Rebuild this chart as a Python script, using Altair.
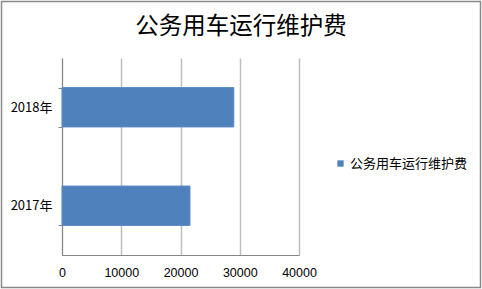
import altair as alt
import pandas as pd

# Annual vehicle operation & maintenance cost
years = ["2017年", "2018年"]
costs = [21600, 29000]
series_name = "公务用车运行维护费"
year_order = ["2018年", "2017年"]
x_ticks = [0, 10000, 20000, 30000, 40000]

FONT = "Noto Sans CJK SC"
NUM_FONT = "Liberation Sans"
BLUE = "#4F81BD"

df = pd.DataFrame({"year": years, "cost": costs, "series": [series_name] * len(years)})

bars = alt.Chart(df).mark_bar(color=BLUE, stroke="#5B8CC6", strokeWidth=1).encode(
    y=alt.Y(
        "year:N",
        sort=year_order,
        scale=alt.Scale(paddingInner=0.6, paddingOuter=0.3),
        axis=alt.Axis(
            title=None,
            grid=False,
            tickBand="extent",
            tickSize=4,
            tickColor="#868686",
            domainColor="#868686",
            labelPadding=6,
            labelFontSize=13,
            labelFont=FONT,
            labelColor="#000000",
        ),
    ),
    x=alt.X(
        "cost:Q",
        scale=alt.Scale(domain=[0, 40000], nice=False),
        axis=alt.Axis(
            title=None,
            values=x_ticks,
            format="d",
            ticks=False,
            labelFlush=False,
            labelOverlap=False,
            grid=True,
            gridColor="#BEBEBE",
            gridWidth=1.5,
            domainColor="#868686",
            labelPadding=11,
            labelFontSize=12.5,
            labelFont=NUM_FONT,
            labelColor="#000000",
        ),
    ),
    color=alt.Color(
        "series:N",
        scale=alt.Scale(range=[BLUE]),
        legend=alt.Legend(
            title=None,
            orient="none",
            legendX=272,
            legendY=99,
            symbolType="square",
            symbolSize=40,
            symbolStrokeWidth=0,
            labelFontSize=13,
            labelFont=FONT,
            labelColor="#000000",
            labelOffset=3,
        ),
    ),
)

# outer chart frame
frame = alt.Chart(pd.DataFrame({"f": [0]})).mark_rect(
    fill=None, stroke="#8A8A8A", strokeWidth=1.5, clip=False
).encode(
    x=alt.value(-60.5), x2=alt.value(418.5), y=alt.value(-56.5), y2=alt.value(229.5)
)

chart = alt.layer(frame, bars).properties(
    width=237,
    height=197,
    padding={"left": 62, "top": 58, "right": 183, "bottom": 34},
    autosize=alt.AutoSizeParams(type="none"),
    title=alt.TitleParams(
        series_name,
        font=FONT,
        fontSize=23.5,
        fontWeight="normal",
        color="#000000",
        anchor="middle",
        dx=60.5,
        dy=38,
        offset=0,
    ),
).configure_view(stroke=None)

chart.save("out.html", embed_options={"renderer": "svg", "actions": False})
